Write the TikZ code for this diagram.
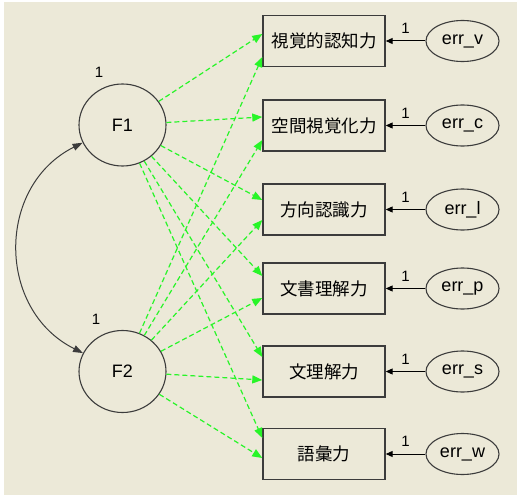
\documentclass[tikz,border=0pt]{standalone}
\usepackage{fontspec}
\setmainfont{Liberation Sans}
\newfontfamily\jpfont{Noto Sans CJK JP}
\usepackage{xcolor}
\definecolor{amosbg}{RGB}{236, 233, 216}
\definecolor{amosgreen}{RGB}{40, 245, 40}
\definecolor{amosline}{RGB}{60, 60, 60}
\usetikzlibrary{arrows.meta, shapes.geometric}

\begin{document}
\begin{tikzpicture}[x=1pt, y=-1pt,
    latent/.style={ellipse, draw=amosline, line width=1.1pt, minimum width=87pt,
        minimum height=82pt, inner sep=0pt, font=\fontsize{18}{18}\selectfont},
    observed/.style={rectangle, draw=amosline, line width=1.4pt, minimum width=122pt,
        minimum height=51pt, inner sep=0pt, font=\jpfont\fontsize{17.5}{17.5}\selectfont},
    errvar/.style={ellipse, draw=amosline, line width=1.1pt, minimum width=73pt,
        minimum height=41pt, inner sep=0pt, font=\fontsize{18}{18}\selectfont},
    weight/.style={font=\fontsize{15}{15}\selectfont, inner sep=0pt},
    loading/.style={-{Triangle[length=10pt, width=8pt]}, amosgreen, line width=1.2pt,
        dash pattern=on 5pt off 3pt},
    errpath/.style={-{Triangle[length=7pt, width=6pt]}, black, line width=1pt}]

% === Fondo ===
\useasboundingbox (0,0) rectangle (517,495);
\fill[white] (0,0) rectangle (517,495);
\fill[amosbg] (4,2) rectangle (517,495);

% === Factores latentes ===
\node[latent] (F1) at (122.5,125) {F1};
\node[latent] (F2) at (122.5,371.5) {F2};
\node[weight] (w-F1) at (99,72) {1};
\node[weight] (w-F2) at (96,319) {1};

% Covarianza F1 <-> F2
\draw[{Triangle[length=10pt, width=7pt]}-{Triangle[length=10pt, width=7pt]}, amosline, line width=1pt]
    (F1.204) .. controls +(-86.6,43.2) and +(-86.6,-43.2) .. (F2.155);

% === Variables observadas, errores y cargas ===
\foreach \k/\y/\txt/\ua/\ub in {v/41/視覚的認知力/7/-16, c/125.5/空間視覚化力/8.5/-14.5,
        l/209.5/方向認識力/9.5/-10.5, p/288.5/文書理解力/12.5/-9.5,
        s/371.5/文理解力/14.5/-8.5, w/454/語彙力/16/-4} {
    \node[observed] (obs-\k) at (324,\y) {\txt};
    \node[errvar] (err-\k) at (462.5,\y) {err\_\k};
    \draw[errpath] (err-\k) -- node[weight, above=7pt] {1} (obs-\k);

    % Puntos de llegada de las cargas
    \coordinate (in1-\k) at ([yshift=\ua pt]obs-\k.west);
    \coordinate (in2-\k) at ([yshift=\ub pt]obs-\k.west);
    \draw[loading] (F1) -- (in1-\k);
    \draw[loading] (F2) -- (in2-\k);
}

\end{tikzpicture}
\end{document}
